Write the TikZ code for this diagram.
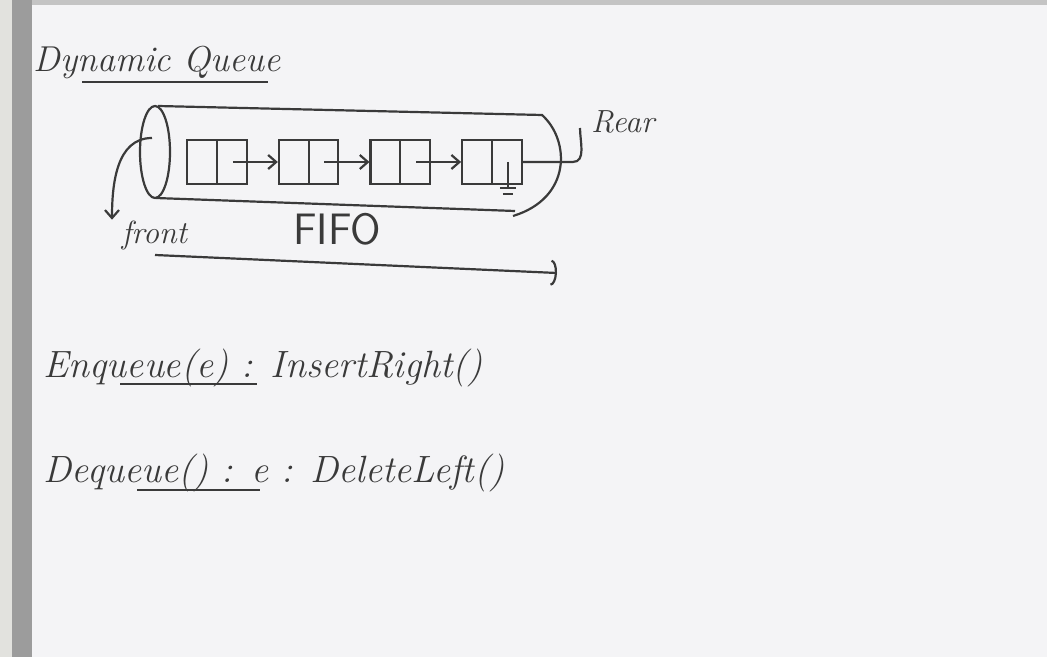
\documentclass[tikz,border=0pt]{standalone}
\usepackage{tikz}
\usetikzlibrary{positioning, arrows.meta, shapes.multipart}
\definecolor{marker}{HTML}{3A3A3A}
\definecolor{board}{HTML}{F4F4F6}
\definecolor{frame}{HTML}{9C9C9C}
\definecolor{wall}{HTML}{E2E2DE}

\begin{document}
\begin{tikzpicture}[x=0.5pt, y=-0.5pt, line width=1.1pt, color=marker,
    cell/.style={rectangle split, rectangle split horizontal, rectangle split parts=2,
      draw, inner sep=0pt, rectangle split empty part width=10pt,
      rectangle split empty part height=22pt, rectangle split empty part depth=0pt},
    ptr/.style={-{Straight Barb[length=4pt,width=7pt]}},
    hand/.style={font=\fontsize{19}{22}\selectfont\itshape},
    lbl/.style={font=\fontsize{16}{19}\selectfont\itshape}]
  \useasboundingbox (0,0) rectangle (1047,657);
  % whiteboard
  \fill[board] (0,0) rectangle (1047,657);
  \fill[wall] (0,0) rectangle (12,657);
  \fill[frame] (12,0) rectangle (32,657);
  \fill[frame!60] (32,0) rectangle (1047,5);

  \node[font=\fontsize{18}{22}\selectfont\itshape, anchor=base west] (title) at (26,72) {Dynamic Queue};
  \draw (82,82) -- (268,82);

  % the queue (drawn as a cylinder)
  \draw (155,152) ellipse [x radius=15, y radius=46];
  \draw (158,106) -- (542,115) .. controls (570,140) and (572,198) .. (513,216);
  \draw (156,198) -- (515,211);
  \node[cell] (n1) at (217,162) {};
  \node[cell, right=15pt of n1] (n2) {};
  \node[cell, right=15pt of n2] (n3) {};
  \node[cell, right=15pt of n3] (n4) {};
  \foreach \a/\b in {n1/n2, n2/n3, n3/n4}
    \draw[ptr] ([xshift=-7.5pt]\a.east) -- (\b.west);
  \coordinate (nul) at ([xshift=-7.5pt]n4.east);
  \draw (nul) -- ++(0,26) ++(-8,0) -- ++(16,0) ++(-13,6) -- ++(10,0);

  \coordinate (rr) at (580,128);
  \node[lbl, anchor=south west, inner sep=1pt] (rear) at ([xshift=4pt,yshift=-4pt]rr) {Rear};
  \draw (n4.east) -- ++(50,0) to[out=0, in=-90] (rr);

  \coordinate (fr) at (152,138);
  \node[lbl, anchor=base west] (front) at (114,244) {front};
  \draw[ptr] (fr) to[out=180, in=90] ([xshift=-1pt,yshift=-3pt]front.north west);

  \node[font=\sffamily\fontsize{22}{26}\selectfont] (fifo) at (337,229) {FIFO};

  \coordinate (dirL) at (155,255);
  \coordinate (dirR) at (557,273);
  \draw[-{Arc Barb[length=3pt,width=13pt]}] (dirL) -- (dirR);

  % operations
  \node[hand, anchor=base west] (enq) at (36,377) {Enqueue(e) : InsertRight()};
  \draw (120,384) -- (257,384);
  \node[hand, anchor=base west] (deq) at (36,482) {Dequeue() : e : DeleteLeft()};
  \draw (137,490) -- (260,490);
\end{tikzpicture}
\end{document}
